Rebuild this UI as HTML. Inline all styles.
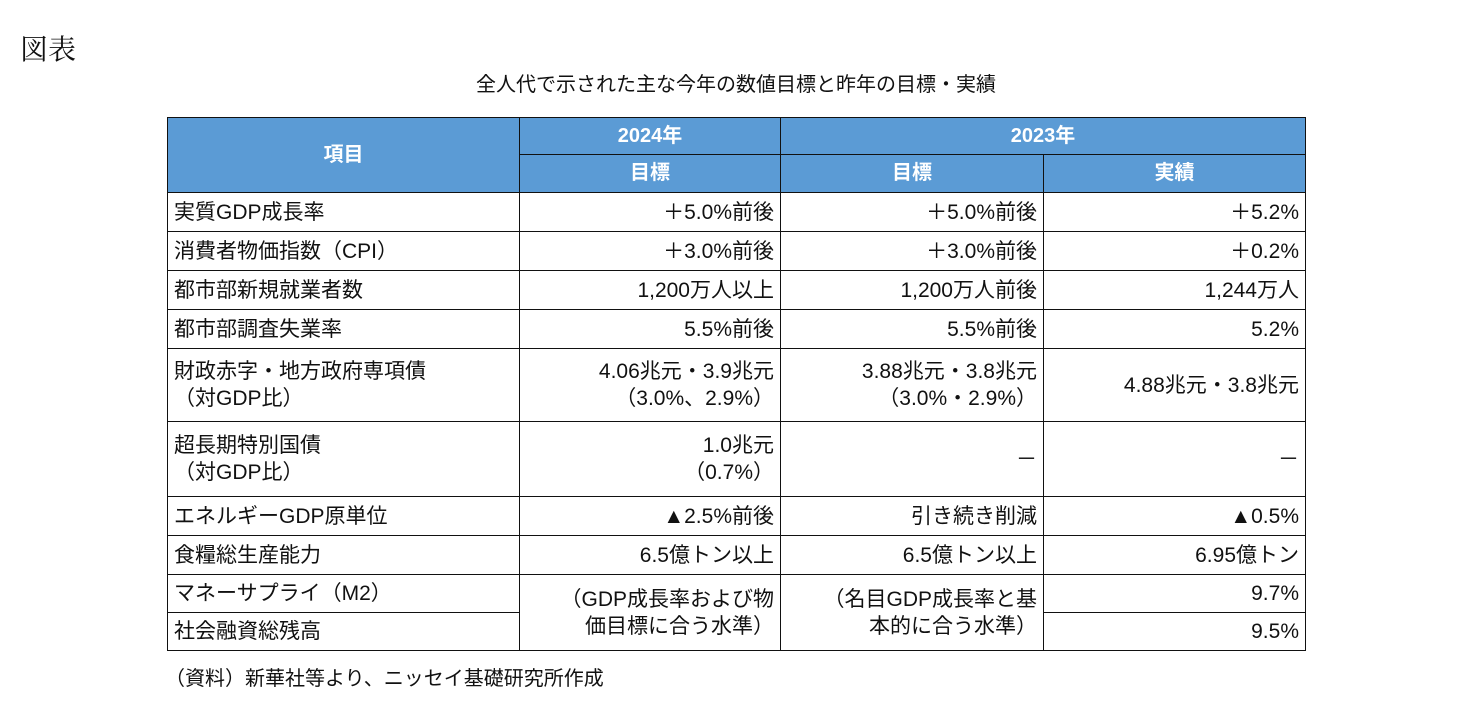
<!DOCTYPE html>
<html><head><meta charset="utf-8"><style>
body{margin:0;width:1478px;height:721px;background:#fff;position:relative;overflow:hidden;font-family:"Liberation Sans","Noto Sans CJK JP",sans-serif;color:#111}
.c{position:absolute;box-sizing:border-box;border:1px solid #111;display:flex;align-items:center;font-size:21px;line-height:27px;padding:0 6px}
.h{background:#5b9bd5;color:#fff;font-weight:bold;justify-content:center;font-size:20px}
.r{justify-content:flex-end;text-align:right}
.l{justify-content:flex-start}
#tbl{position:absolute;left:0;top:0;border:none}
</style></head><body>
<div style="position:absolute;left:20px;top:28px;font-size:28px;font-family:'Liberation Serif','Noto Serif CJK SC',serif">図表</div>
<div style="position:absolute;left:167px;width:1138px;top:68px;text-align:center;font-size:20px">全人代で示された主な今年の数値目標と昨年の目標・実績</div>
<div id="tbl"></div>
<div style="position:absolute;left:165px;top:662px;font-size:20px">（資料）新華社等より、ニッセイ基礎研究所作成</div>
<script>
const X=[167,519,780,1043,1305];
const Y=[117,154,192,231,270,309,348,421,496,535,574,612,650];
const rows=[
["実質GDP成長率","＋5.0%前後","＋5.0%前後","＋5.2%"],
["消費者物価指数（CPI）","＋3.0%前後","＋3.0%前後","＋0.2%"],
["都市部新規就業者数","1,200万人以上","1,200万人前後","1,244万人"],
["都市部調査失業率","5.5%前後","5.5%前後","5.2%"],
["財政赤字・地方政府専項債<br>（対GDP比）","4.06兆元・3.9兆元<br>（3.0%、2.9%）","3.88兆元・3.8兆元<br>（3.0%・2.9%）","4.88兆元・3.8兆元"],
["超長期特別国債<br>（対GDP比）","1.0兆元<br>（0.7%）","－","－"],
["エネルギーGDP原単位","▲2.5%前後","引き続き削減","▲0.5%"],
["食糧総生産能力","6.5億トン以上","6.5億トン以上","6.95億トン"],
["マネーサプライ（M2）",null,null,"9.7%"],
["社会融資総残高",null,null,"9.5%"]];
const t=document.getElementById('tbl');
function cell(x0,x1,y0,y1,html,cls,name){const d=document.createElement('div');d.className='c '+cls;
d.style.left=x0+'px';d.style.top=y0+'px';d.style.width=(x1-x0+1)+'px';d.style.height=(y1-y0+1)+'px';d.innerHTML=html;


t.appendChild(d);}
cell(X[0],X[1],Y[0],Y[2],'項目','h','header-item');
cell(X[1],X[2],Y[0],Y[1],'2024年','h','header-2024');
cell(X[2],X[4],Y[0],Y[1],'2023年','h','header-2023');
cell(X[1],X[2],Y[1],Y[2],'目標','h','header-2024-target');
cell(X[2],X[3],Y[1],Y[2],'目標','h','header-2023-target');
cell(X[3],X[4],Y[1],Y[2],'実績','h','header-2023-actual');
rows.forEach((r,i)=>{const y0=Y[i+2],y1=Y[i+3];
cell(X[0],X[1],y0,y1,r[0],'l','row-label');
for(let k=1;k<4;k++){if(r[k]!==null)cell(X[k],X[k+1],y0,y1,r[k],'r','row-value');}
});
cell(X[1],X[2],Y[10],Y[12],'（GDP成長率および物<br>価目標に合う水準）','r','m2-target-2024');
cell(X[2],X[3],Y[10],Y[12],'（名目GDP成長率と基<br>本的に合う水準）','r','m2-target-2023');
</script>
</body></html>
